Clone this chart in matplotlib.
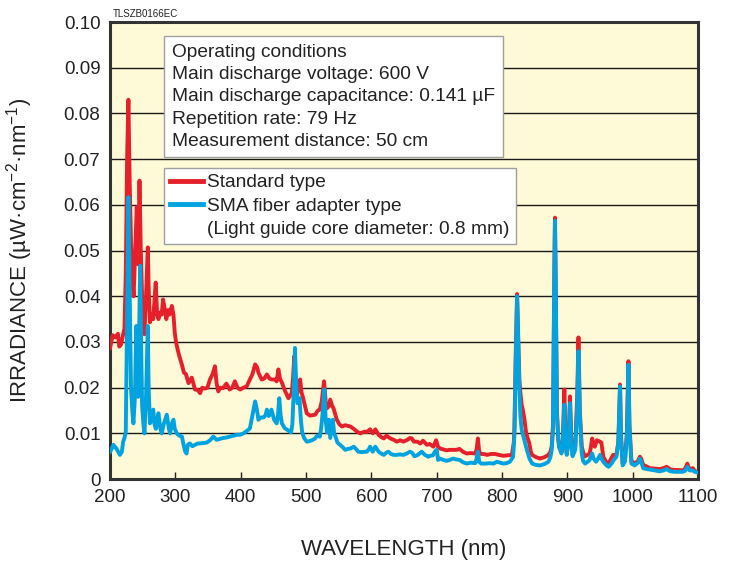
"""Irradiance spectra: standard type vs SMA fiber adapter type."""

import matplotlib

matplotlib.use("Agg")
import matplotlib.pyplot as plt
from matplotlib.lines import Line2D

plt.rcParams["font.family"] = ["Liberation Sans", "DejaVu Sans"]
plt.rcParams["mathtext.fontset"] = "custom"
plt.rcParams["mathtext.rm"] = "Liberation Sans"

# Standard type (red)
std_nm = [
    200, 204, 208, 212, 214, 217, 219, 222, 224, 226, 228, 230, 232, 234, 236,
    238, 240.8, 243, 245, 247, 249, 252.5, 255, 257.7, 259, 261, 264, 266,
    269.8, 272, 274, 277, 279, 281, 284, 286, 289, 291, 294.5, 297, 299, 301,
    304, 306, 310, 313, 316, 320, 325, 330, 334, 337.8, 341, 345, 349, 352.9,
    357, 360.5, 363, 365.6, 369, 373, 378, 383, 387, 391, 395, 399, 404, 409,
    414, 418, 422, 425, 427, 432, 436, 440, 444, 447, 452, 455, 457.6, 460,
    463, 468, 473, 478, 480, 482, 484, 486, 488, 491, 493, 496, 501, 506, 510,
    514, 518, 521, 524, 527.5, 530, 532, 535, 537, 540, 542, 547, 551, 555,
    560, 568, 573, 578, 583, 586, 590, 593, 598, 602, 606, 611, 615, 619, 623,
    629, 634, 639, 644, 649, 655, 659, 662, 665, 670, 675, 679, 685, 689, 695,
    699, 702, 705, 710, 715, 720, 725, 730, 735, 740, 746, 752, 759, 761, 763,
    765, 768, 772, 777, 783, 789, 795, 802, 808, 815, 818, 819, 821, 823, 825,
    826.5, 828, 830, 832, 834, 836, 837, 839, 841.5, 844, 846, 852, 858, 865,
    871, 874, 876, 878, 880, 881, 882, 884, 886, 888, 891.4, 893, 895.4, 897,
    899, 902, 904, 906, 908, 912, 915, 917, 919, 922, 925, 927, 931, 934, 936,
    938, 940, 942, 945, 947, 950, 952, 955, 960, 963, 967, 970, 975, 978,
    980.6, 982, 984.6, 988, 991, 993.5, 995, 998, 1003, 1008, 1011, 1013,
    1016, 1021, 1026, 1034, 1041, 1047, 1052, 1055, 1058, 1065, 1070, 1076,
    1080, 1083.6, 1086, 1088, 1092, 1095, 1100,
]
std_val = [
    0.0287, 0.0315, 0.0310, 0.0318, 0.0290, 0.0295, 0.0310, 0.0330, 0.0450,
    0.0700, 0.0830, 0.0650, 0.0520, 0.0440, 0.0400, 0.0480, 0.0595, 0.0470,
    0.0653, 0.0500, 0.0400, 0.0317, 0.0400, 0.0507, 0.0420, 0.0343, 0.0360,
    0.0350, 0.0430, 0.0360, 0.0350, 0.0365, 0.0360, 0.0393, 0.0370, 0.0350,
    0.0370, 0.0360, 0.0379, 0.0360, 0.0320, 0.0299, 0.0280, 0.0269, 0.0250,
    0.0233, 0.0230, 0.0210, 0.0222, 0.0196, 0.0195, 0.0188, 0.0200, 0.0198,
    0.0200, 0.0218, 0.0230, 0.0247, 0.0210, 0.0192, 0.0200, 0.0199, 0.0209,
    0.0196, 0.0200, 0.0214, 0.0200, 0.0196, 0.0200, 0.0203, 0.0218, 0.0230,
    0.0251, 0.0245, 0.0233, 0.0218, 0.0220, 0.0229, 0.0220, 0.0218, 0.0218,
    0.0214, 0.0240, 0.0220, 0.0211, 0.0192, 0.0177, 0.0188, 0.0220, 0.0269,
    0.0210, 0.0182, 0.0200, 0.0218, 0.0190, 0.0174, 0.0144, 0.0139, 0.0140,
    0.0141, 0.0150, 0.0152, 0.0170, 0.0214, 0.0170, 0.0155, 0.0160, 0.0174,
    0.0160, 0.0155, 0.0130, 0.0120, 0.0115, 0.0118, 0.0115, 0.0110, 0.0104,
    0.0100, 0.0102, 0.0104, 0.0103, 0.0109, 0.0100, 0.0109, 0.0097, 0.0092,
    0.0089, 0.0095, 0.0089, 0.0086, 0.0082, 0.0085, 0.0082, 0.0086, 0.0090,
    0.0089, 0.0082, 0.0082, 0.0078, 0.0084, 0.0075, 0.0077, 0.0071, 0.0085,
    0.0071, 0.0067, 0.0065, 0.0063, 0.0064, 0.0064, 0.0064, 0.0066, 0.0060,
    0.0056, 0.0057, 0.0056, 0.0065, 0.0089, 0.0060, 0.0055, 0.0055, 0.0053,
    0.0055, 0.0055, 0.0053, 0.0051, 0.0052, 0.0053, 0.0080, 0.0115, 0.0280,
    0.0405, 0.0300, 0.0218, 0.0190, 0.0163, 0.0150, 0.0133, 0.0110, 0.0100,
    0.0090, 0.0080, 0.0060, 0.0053, 0.0048, 0.0045, 0.0048, 0.0053, 0.0060,
    0.0071, 0.0120, 0.0450, 0.0572, 0.0450, 0.0150, 0.0086, 0.0070, 0.0060,
    0.0090, 0.0196, 0.0090, 0.0056, 0.0090, 0.0181, 0.0090, 0.0053, 0.0071,
    0.0180, 0.0310, 0.0150, 0.0071, 0.0055, 0.0050, 0.0053, 0.0056, 0.0070,
    0.0089, 0.0075, 0.0071, 0.0085, 0.0084, 0.0082, 0.0080, 0.0049, 0.0036,
    0.0034, 0.0045, 0.0053, 0.0053, 0.0080, 0.0207, 0.0100, 0.0034, 0.0040,
    0.0100, 0.0258, 0.0120, 0.0040, 0.0034, 0.0040, 0.0049, 0.0045, 0.0031,
    0.0028, 0.0024, 0.0023, 0.0022, 0.0024, 0.0027, 0.0024, 0.0021, 0.0020,
    0.0020, 0.0019, 0.0022, 0.0034, 0.0024, 0.0022, 0.0024, 0.0018, 0.0014,
]

# SMA fiber adapter type (blue)
sma_nm = [
    200, 203, 205, 208, 210, 213, 215, 218, 220, 222, 224, 226, 228, 230, 232,
    234, 235.7, 238, 240, 242, 243, 246, 248, 249, 251, 252.6, 255, 257.7,
    259, 261, 264, 266, 268, 270, 272, 274, 277, 279, 282, 286.8, 290, 292,
    294, 297, 299, 302, 306, 310, 312, 315, 317, 319, 322, 326, 330, 334,
    337.8, 343, 348, 353, 358, 363, 368, 373, 378, 383, 389, 394, 399, 404,
    409, 414, 418, 422, 425, 427, 431, 435, 438, 440, 443, 447, 451, 455, 457,
    459, 461, 463, 467, 471, 474, 477, 479, 481, 483, 485, 487, 489, 490, 492,
    494, 497, 501, 505, 509, 513, 517, 521, 523, 525, 528, 530, 532, 535, 537,
    539, 541, 543, 545, 548, 552, 556, 560, 564, 568, 573, 577, 580, 585, 591,
    593, 596, 598, 602, 606, 611, 615, 619, 623, 626, 630, 634, 638, 644, 649,
    654, 659, 662, 666, 670, 677, 682, 687, 690, 694, 698, 700, 702, 705, 710,
    715, 720, 725, 730, 735, 740, 746, 752, 759, 761, 763, 765, 768, 775, 781,
    787, 792, 797, 802, 807, 812, 817, 819, 821, 823, 825, 826.5, 828, 830,
    834, 838, 842, 846, 852, 858, 865, 871, 874, 876, 878, 880, 881, 882, 884,
    887, 891, 893, 895.4, 897, 899, 902, 904, 906, 908, 912, 915, 917, 919,
    922, 924, 927, 931, 934, 936, 938, 940, 944, 947, 950, 952, 955, 960, 963,
    967, 970, 975, 978, 980.6, 982, 984.6, 988, 991, 993.5, 995, 998, 1003,
    1008, 1011, 1013, 1016, 1021, 1026, 1034, 1041, 1047, 1052, 1055, 1058,
    1065, 1070, 1076, 1080, 1083.6, 1086, 1088, 1092, 1095, 1100,
]
sma_val = [
    0.0060, 0.0068, 0.0075, 0.0070, 0.0066, 0.0058, 0.0053, 0.0060, 0.0082,
    0.0090, 0.0104, 0.0350, 0.0617, 0.0400, 0.0200, 0.0150, 0.0122, 0.0180,
    0.0335, 0.0220, 0.0180, 0.0467, 0.0250, 0.0161, 0.0120, 0.0100, 0.0180,
    0.0335, 0.0200, 0.0122, 0.0130, 0.0152, 0.0120, 0.0110, 0.0130, 0.0144,
    0.0110, 0.0100, 0.0120, 0.0141, 0.0110, 0.0100, 0.0120, 0.0130, 0.0110,
    0.0100, 0.0095, 0.0093, 0.0078, 0.0060, 0.0056, 0.0075, 0.0078, 0.0072,
    0.0075, 0.0078, 0.0078, 0.0079, 0.0080, 0.0085, 0.0093, 0.0086, 0.0088,
    0.0090, 0.0091, 0.0093, 0.0095, 0.0097, 0.0097, 0.0100, 0.0105, 0.0111,
    0.0140, 0.0170, 0.0150, 0.0130, 0.0135, 0.0135, 0.0140, 0.0152, 0.0138,
    0.0152, 0.0130, 0.0122, 0.0140, 0.0177, 0.0140, 0.0122, 0.0112, 0.0108,
    0.0105, 0.0102, 0.0120, 0.0188, 0.0287, 0.0200, 0.0166, 0.0177, 0.0177,
    0.0130, 0.0102, 0.0090, 0.0082, 0.0083, 0.0085, 0.0088, 0.0095, 0.0093,
    0.0110, 0.0139, 0.0196, 0.0130, 0.0102, 0.0130, 0.0090, 0.0110, 0.0130,
    0.0100, 0.0093, 0.0080, 0.0075, 0.0070, 0.0064, 0.0066, 0.0067, 0.0071,
    0.0065, 0.0060, 0.0059, 0.0060, 0.0060, 0.0065, 0.0071, 0.0060, 0.0071,
    0.0060, 0.0056, 0.0053, 0.0058, 0.0060, 0.0055, 0.0053, 0.0053, 0.0054,
    0.0053, 0.0056, 0.0060, 0.0058, 0.0050, 0.0052, 0.0060, 0.0053, 0.0049,
    0.0051, 0.0052, 0.0062, 0.0064, 0.0042, 0.0045, 0.0042, 0.0040, 0.0042,
    0.0045, 0.0043, 0.0042, 0.0037, 0.0034, 0.0036, 0.0035, 0.0045, 0.0060,
    0.0038, 0.0034, 0.0034, 0.0035, 0.0034, 0.0038, 0.0036, 0.0034, 0.0035,
    0.0038, 0.0049, 0.0100, 0.0260, 0.0400, 0.0280, 0.0196, 0.0140, 0.0108,
    0.0086, 0.0064, 0.0045, 0.0034, 0.0031, 0.0030, 0.0033, 0.0038, 0.0048,
    0.0064, 0.0110, 0.0450, 0.0565, 0.0440, 0.0140, 0.0071, 0.0056, 0.0080,
    0.0163, 0.0080, 0.0053, 0.0080, 0.0166, 0.0080, 0.0050, 0.0064, 0.0160,
    0.0280, 0.0140, 0.0056, 0.0040, 0.0034, 0.0038, 0.0042, 0.0050, 0.0056,
    0.0045, 0.0038, 0.0045, 0.0053, 0.0045, 0.0038, 0.0030, 0.0027, 0.0033,
    0.0040, 0.0049, 0.0080, 0.0203, 0.0090, 0.0030, 0.0038, 0.0090, 0.0250,
    0.0110, 0.0034, 0.0030, 0.0036, 0.0045, 0.0038, 0.0024, 0.0022, 0.0021,
    0.0019, 0.0017, 0.0019, 0.0022, 0.0019, 0.0017, 0.0016, 0.0016, 0.0016,
    0.0018, 0.0027, 0.0020, 0.0019, 0.0019, 0.0016, 0.0014,
]

x_ticks = [200, 300, 400, 500, 600, 700, 800, 900, 1000, 1100]
y_ticks = [0, 0.01, 0.02, 0.03, 0.04, 0.05, 0.06, 0.07, 0.08, 0.09, 0.10]
y_tick_labels = ["0", "0.01", "0.02", "0.03", "0.04", "0.05",
                 "0.06", "0.07", "0.08", "0.09", "0.10"]

conditions = (
    "Operating conditions\n"
    "Main discharge voltage: 600 V\n"
    "Main discharge capacitance: 0.141 \u00b5F\n"
    "Repetition rate: 79 Hz\n"
    "Measurement distance: 50 cm"
)

RED = "#e6202a"
BLUE = "#00a3e0"

fig = plt.figure(figsize=(7.34, 5.65), dpi=100)
ax = fig.add_axes([0.150, 0.152, 0.801, 0.809])
ax.set_facecolor("#fef9d6")

ax.plot(std_nm, std_val, color=RED, lw=2.8, solid_joinstyle="round", zorder=3)
ax.plot(sma_nm, sma_val, color=BLUE, lw=2.8, solid_joinstyle="round", zorder=4)

ax.set_xlim(200, 1100)
ax.set_ylim(0, 0.10)
ax.set_xticks(x_ticks)
ax.set_yticks(y_ticks)
ax.set_yticklabels(y_tick_labels)
ax.tick_params(axis="x", direction="in", length=5, width=1, pad=7,
               labelsize=13.5, colors="#222222")
ax.tick_params(axis="y", length=0, pad=7, labelsize=13.5, colors="#222222")
ax.grid(axis="y", color="#1a1a1a", lw=1)
ax.set_axisbelow(True)
for s in ax.spines.values():
    s.set_linewidth(2.2)
    s.set_color("#333333")

ax.set_xlabel("WAVELENGTH (nm)", fontsize=16, color="#222222")
ax.xaxis.set_label_coords(0.5, -0.13)
ax.set_ylabel("IRRADIANCE (\u00b5W\u00b7cm$^{\\mathregular{-2}}$\u00b7nm$^{\\mathregular{-1}}$)",
              fontsize=16, color="#222222")
ax.yaxis.set_label_coords(-0.128, 0.5)

fig.text(0.153, 0.976, "TLSZB0166EC", fontsize=7, color="#222222", va="center")

ax.text(0.1054, 0.952, conditions, transform=ax.transAxes, fontsize=13.8,
        va="top", ha="left", linespacing=1.4, color="#222222", zorder=6,
        bbox=dict(boxstyle="square,pad=0.4", fc="white", ec="#a0a0a0", lw=1))

handles = [
    Line2D([], [], color=RED, lw=3.5),
    Line2D([], [], color=BLUE, lw=3.5),
    Line2D([], [], color="none"),
]
labels = ["Standard type", "SMA fiber adapter type",
          "(Light guide core diameter: 0.8 mm)"]
leg = ax.legend(handles, labels, loc="upper left", bbox_to_anchor=(0.092, 0.680),
                borderaxespad=0, fontsize=13.8, handlelength=1.75, handletextpad=0.2,
                labelspacing=0.3, borderpad=0.3, fancybox=False, framealpha=1,
                edgecolor="#a0a0a0")
leg.get_frame().set_linewidth(1)
leg.set_zorder(6)
for t in leg.get_texts():
    t.set_color("#222222")

fig.savefig("out.png", dpi=100)
